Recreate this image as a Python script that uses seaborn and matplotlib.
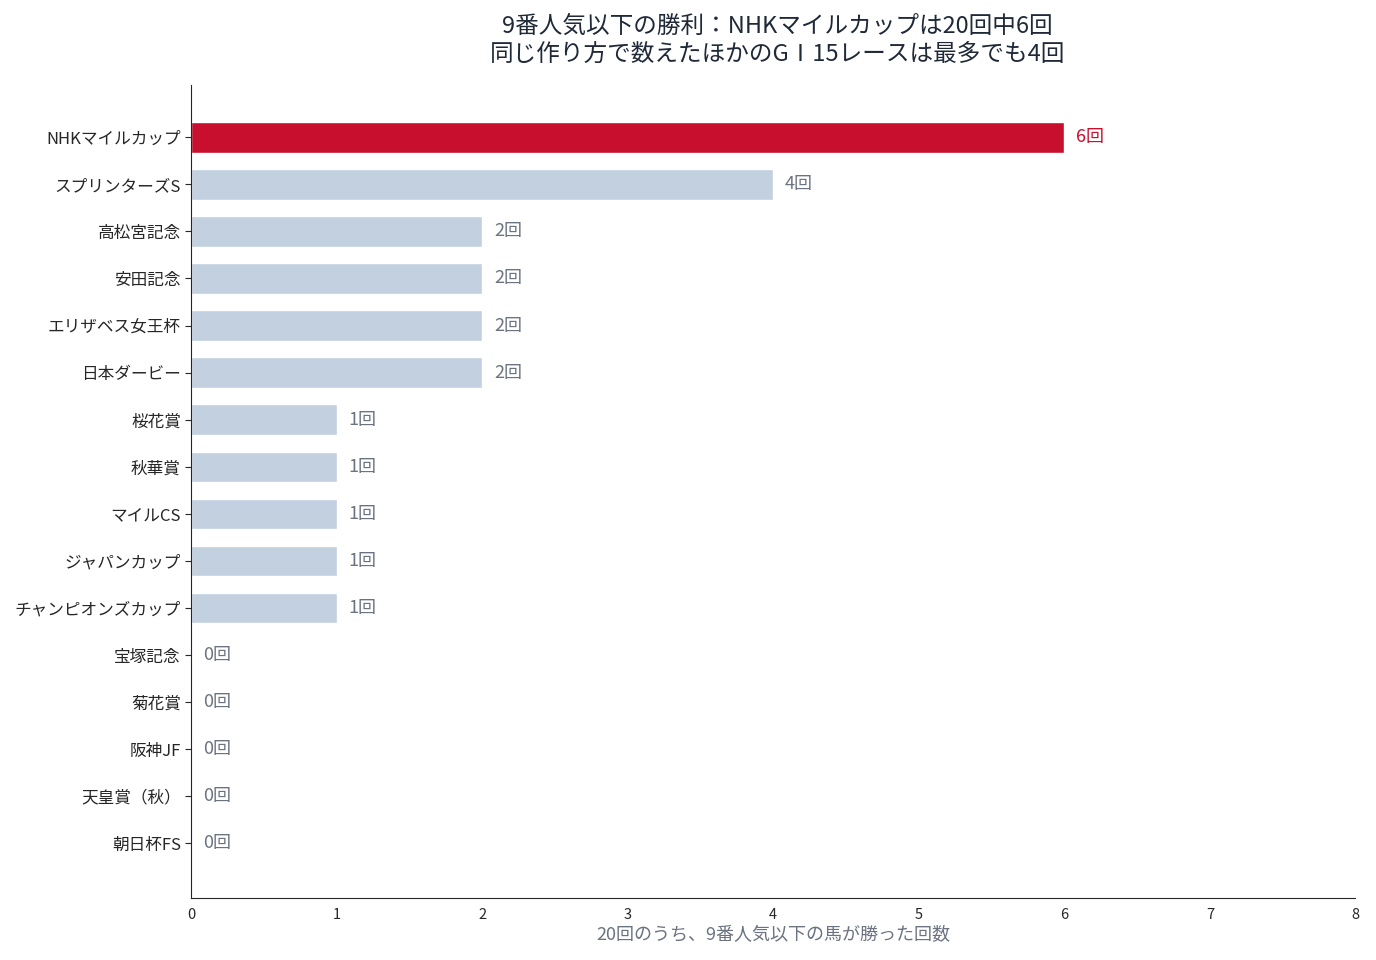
import seaborn as sns
import pandas as pd
import matplotlib.pyplot as plt

# データ
races = ['NHKマイルカップ', 'スプリンターズS', '高松宮記念', '安田記念', 'エリザベス女王杯',
         '日本ダービー', '桜花賞', '秋華賞', 'マイルCS', 'ジャパンカップ',
         'チャンピオンズカップ', '宝塚記念', '菊花賞', '阪神JF', '天皇賞（秋）', '朝日杯FS']
wins = [6, 4, 2, 2, 2, 2, 1, 1, 1, 1, 1, 0, 0, 0, 0, 0]
highlight = 'NHKマイルカップ'

sns.set_style('white')
plt.rcParams['font.family'] = ['Noto Sans CJK JP', 'DejaVu Sans']

red = '#C8102E'
grey = '#C3D0E0'
label_grey = '#6B7280'

df = pd.DataFrame({'race': races, 'wins': wins})
palette = {r: (red if r == highlight else grey) for r in races}

fig, ax = plt.subplots(figsize=(13.76, 9.6), dpi=100)
sns.barplot(data=df, y='race', x='wins', hue='race', palette=palette,
            order=races, legend=False, width=0.65, ax=ax, saturation=1)

# 値ラベル
for i, (r, w) in enumerate(zip(races, wins)):
    col = red if r == highlight else label_grey
    ax.text(w + 0.08, i, f'{w}回', va='center', ha='left', fontsize=13, color=col)

ax.set_xlim(0, 8)
ax.set_ylim(16.15, -1.1)
ax.set_xticks(range(0, 9))
ax.tick_params(axis='x', labelsize=10.5, length=4)
ax.tick_params(axis='y', labelsize=12, length=4, left=True)
ax.set_ylabel('')
ax.set_xlabel('20回のうち、9番人気以下の馬が勝った回数', fontsize=13, color=label_grey, labelpad=3)
sns.despine(ax=ax)

fig.suptitle('9番人気以下の勝利：NHKマイルカップは20回中6回\n同じ作り方で数えたほかのGⅠ15レースは最多でも4回',
             fontsize=17, color='#1F2937', x=0.565, y=0.985, linespacing=1.3)

fig.subplots_adjust(left=0.139, right=0.985, top=0.911, bottom=0.065)
fig.savefig('out.png', dpi=100)
